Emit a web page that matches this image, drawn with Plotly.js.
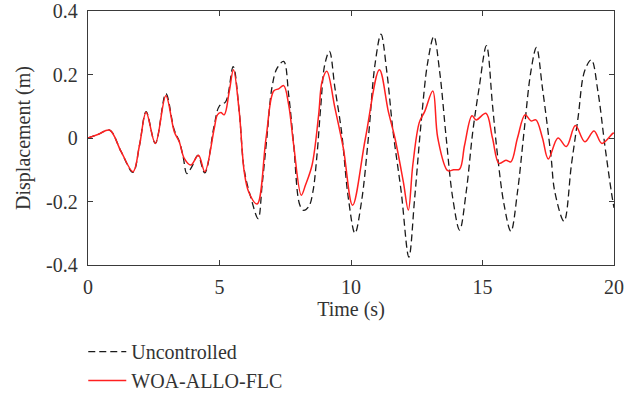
<!DOCTYPE html>
<html>
<head>
<meta charset="utf-8">
<script src="https://cdn.plot.ly/plotly-3.0.1.min.js"></script>
<style>
html,body{margin:0;padding:0;background:#fff;}
#chart{width:624px;height:393px;}
</style>
</head>
<body>
<div id="chart"></div>
<script>
// Uncontrolled response (black dashed)
const uncT = [0,0.4,0.82,1.26,1.71,1.96,2.21,2.56,2.96,3.28,3.47,3.62,3.76,3.95,4.18,4.44,4.8,4.99,5.24,5.52,5.75,5.94,6.2,6.47,6.62,6.8,7.0,7.19,7.44,7.63,7.82,8.05,8.2,8.4,8.55,8.7,8.85,9.0,9.18,9.39,9.64,9.9,10.15,10.4,10.66,10.91,11.14,11.36,11.6,11.91,12.2,12.42,12.67,12.92,13.15,13.37,13.62,13.87,14.13,14.38,14.63,14.87,15.15,15.38,15.57,15.82,16.08,16.33,16.58,16.84,17.05,17.28,17.6,17.75,18.1,18.38,18.63,18.88,19.14,19.39,19.65,19.9,20];
const uncV = [0,0.012,0.025,-0.043,-0.108,-0.022,0.083,-0.017,0.14,0.025,-0.01,-0.06,-0.112,-0.09,-0.055,-0.11,0.04,0.1,0.115,0.225,0.083,-0.1,-0.19,-0.254,-0.148,0,0.162,0.22,0.241,0.136,-0.02,-0.21,-0.228,-0.215,-0.17,-0.06,0.1,0.23,0.273,0.157,0.02,-0.19,-0.30,-0.2,0,0.23,0.327,0.21,0.02,-0.17,-0.375,-0.19,0.052,0.24,0.32,0.21,0,-0.19,-0.29,-0.17,0.02,0.157,0.291,0.104,-0.054,-0.21,-0.294,-0.17,0.02,0.21,0.285,0.157,-0.054,-0.17,-0.262,-0.085,0.062,0.21,0.246,0.146,-0.022,-0.17,-0.22];

// WOA-ALLO-FLC controlled response (red)
const flcT = [0,0.4,0.82,1.26,1.71,1.96,2.21,2.56,2.96,3.28,3.47,3.66,3.91,4.2,4.44,4.8,4.92,5.05,5.18,5.37,5.53,5.75,5.94,6.11,6.43,6.77,7.06,7.25,7.44,7.63,7.82,8.11,8.27,8.52,8.77,8.9,9.08,9.39,9.71,10.06,10.55,11.08,11.42,11.67,11.99,12.18,12.35,12.6,12.8,13.11,13.3,13.68,13.9,14.13,14.32,14.6,14.76,15.13,15.38,15.63,15.89,16.08,16.33,16.62,16.84,17.03,17.28,17.5,17.87,18.19,18.53,18.89,19.24,19.54,19.96,20];
const flcV = [0,0.012,0.025,-0.043,-0.106,-0.022,0.081,-0.017,0.133,0.02,-0.012,-0.064,-0.085,-0.054,-0.106,0.03,0.073,0.08,0.073,0.146,0.215,0.083,-0.106,-0.17,-0.208,0,0.148,0.155,0.165,0.104,-0.022,-0.18,-0.148,-0.085,0.073,0.178,0.21,0.094,-0.033,-0.212,0,0.215,0.083,0,-0.138,-0.227,-0.085,0.05,0.083,0.148,0,-0.103,-0.1,-0.098,-0.022,0.07,0.057,0.078,0,-0.08,-0.07,-0.075,0,0.073,0.054,0.057,0,-0.066,0.0,-0.027,0.039,-0.012,0.022,-0.017,0.015,0.016];

const xTicks = [0,5,10,15,20];
const xTickText = ['0','5','10','15','20'];
const yTicks = [-0.4,-0.2,0,0.2,0.4];
const yTickText = ['-0.4','-0.2','0','0.2','0.4'];

const FONT = 'Liberation Serif, Times New Roman, serif';
const AX = '#3a3a3a';
const FS = 20;

const traces = [
  {x: uncT, y: uncV, name: 'Uncontrolled', mode: 'lines',
   line: {color: '#1a1a1a', width: 1.3, dash: '7px,4px', shape: 'spline', smoothing: 1}},
  {x: flcT, y: flcV, name: 'WOA-ALLO-FLC', mode: 'lines',
   line: {color: '#ff2020', width: 1.5, shape: 'spline', smoothing: 1}}
];

const layout = {
  width: 624, height: 393,
  margin: {l: 88, r: 10, t: 11, b: 128, autoexpand: false},
  paper_bgcolor: '#fff', plot_bgcolor: '#fff',
  font: {family: FONT, size: FS, color: '#333'},
  showlegend: true,
  legend: {x: -0.009, xanchor: 'left', y: -0.264, yanchor: 'top', orientation: 'v',
           itemwidth: 38, font: {family: FONT, size: FS, color: '#333'},
           bgcolor: 'rgba(0,0,0,0)', tracegroupgap: 0},
  xaxis: {range: [0, 20], tickvals: xTicks, ticktext: xTickText, ticks: 'inside', ticklen: 5,
          tickcolor: AX, linecolor: AX, linewidth: 1.3, mirror: 'ticks', showline: true,
          showgrid: false, zeroline: false, ticklabelstandoff: 4,
          tickfont: {family: FONT, size: FS, color: '#333'},
          title: {text: 'Time (s)', font: {family: FONT, size: FS, color: '#333'}, standoff: 4}},
  yaxis: {range: [-0.4, 0.4], tickvals: yTicks, ticktext: yTickText, ticks: 'inside', ticklen: 5,
          tickcolor: AX, linecolor: AX, linewidth: 1.3, mirror: 'ticks', showline: true,
          showgrid: false, zeroline: false, ticklabelstandoff: 5,
          tickfont: {family: FONT, size: FS, color: '#333'},
          title: {text: 'Displacement (m)', font: {family: FONT, size: FS, color: '#333'}, standoff: 10}}
};

Plotly.newPlot('chart', traces, layout, {displayModeBar: false, staticPlot: true});
</script>
</body>
</html>
